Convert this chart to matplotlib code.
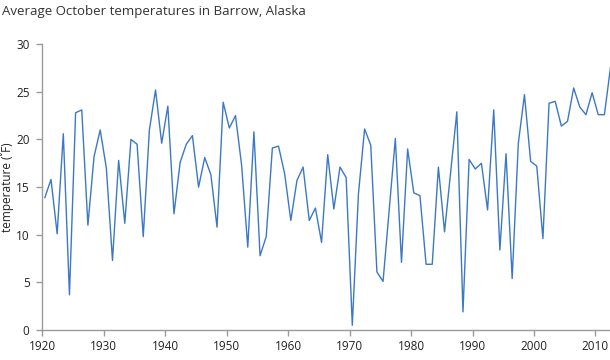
import matplotlib
matplotlib.use("Agg")
import matplotlib.pyplot as plt
import numpy as np

# October mean temperature, Barrow AK (deg F)
years = np.arange(1920, 2013)
temps = [
    13.9, 15.8, 10.1, 20.6, 3.7, 22.8, 23.1, 11.0, 18.2, 21.0,   # 1920s
    17.0, 7.3, 17.8, 11.2, 20.0, 19.5, 9.8, 21.0, 25.2, 19.6,    # 1930s
    23.5, 12.2, 17.6, 19.5, 20.4, 15.0, 18.1, 16.3, 10.8, 23.9,  # 1940s
    21.2, 22.5, 17.3, 8.7, 20.8, 7.8, 9.8, 19.1, 19.3, 16.4,     # 1950s
    11.5, 15.7, 17.1, 11.5, 12.8, 9.2, 18.4, 12.7, 17.1, 16.0,   # 1960s
    0.5, 14.3, 21.1, 19.4, 6.1, 5.1, 12.6, 20.1, 7.1, 19.0,      # 1970s
    14.4, 14.1, 6.9, 6.9, 17.1, 10.3, 16.6, 22.9, 1.9, 17.9,     # 1980s
    16.9, 17.5, 12.6, 23.1, 8.4, 18.5, 5.4, 19.6, 24.7, 17.7,    # 1990s
    17.2, 9.6, 23.8, 24.0, 21.4, 21.9, 25.4, 23.4, 22.6, 24.9,   # 2000s
    22.6, 22.6, 27.6,                                            # 2010s
]
x_ticks = [1920, 1930, 1940, 1950, 1960, 1970, 1980, 1990, 2000, 2010]
y_ticks = [0, 5, 10, 15, 20, 25, 30]

plt.rcParams['font.family'] = ['Open Sans', 'DejaVu Sans']

fig = plt.figure(figsize=(6.1, 3.6), dpi=100)
ax = fig.add_axes([0.069, 0.0833, 0.931, 0.794])

line_color = "#3b78c5"
axis_color = "#9a9a9a"

# points sit mid-year on the axis
ax.plot(years + 0.45, temps, color=line_color, linewidth=1.0)

ax.set_xlim(1920, 2012.36)
ax.set_ylim(0, 30)
ax.set_xticks(x_ticks)
ax.set_yticks(y_ticks)

for side in ["top", "right"]:
    ax.spines[side].set_visible(False)
for side in ["left", "bottom"]:
    ax.spines[side].set_color(axis_color)
    ax.spines[side].set_linewidth(1.0)

ax.tick_params(axis="both", colors=axis_color, length=4, width=1.0,
               labelsize=8.5, labelcolor="#222222")
ax.tick_params(axis="x", pad=3)
ax.tick_params(axis="y", pad=5)

ax.set_ylabel("temperature (˚F)", fontsize=8.5, color="#222222")
ax.yaxis.set_label_coords(-0.049, 0.5)
fig.text(0.003, 0.985, "Average October temperatures in Barrow, Alaska",
         fontsize=9.5, color="#333333", ha="left", va="top")

fig.savefig("out.png", dpi=100)
